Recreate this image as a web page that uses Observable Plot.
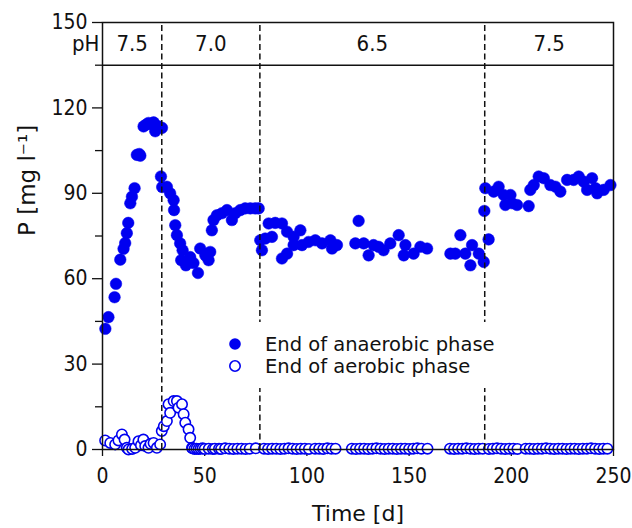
<!DOCTYPE html>
<html>
<head>
<meta charset="utf-8">
<script src="https://cdn.jsdelivr.net/npm/d3@7"></script>
<script src="https://cdn.jsdelivr.net/npm/@observablehq/plot@0.6"></script>
<style>
  html, body { margin: 0; padding: 0; background: #fff; }
  #chart { width: 632px; height: 528px; }
</style>
</head>
<body>
<div id="chart"></div>
<script>
// ---- data ----
const anaerobicDays = [1.4,2.9,5.9,6.6,8.7,10.3,11.1,11.9,12.6,13.6,14.4,15.7,16.8,18.0,18.5,20.1,21.5,22.5,23.8,25.0,25.8,27.4,29.1,28.6,29.2,31.5,33.1,34.8,35.0,35.6,36.4,38.0,39.2,38.5,40.8,42.9,44.5,46.7,47.8,50.3,51.9,52.7,53.5,54.3,56.0,58.4,60.9,63.3,65.0,67.4,69.8,72.3,74.7,76.4,77.2,78.0,79.6,81.3,82.9,84.5,87.8,87.8,90.3,90.3,93.5,96.8,93.5,97.6,100.8,104.1,107.4,111.5,112.3,114.7,123.7,125.3,127.8,130.2,132.6,135.1,137.5,140.8,144.9,147.4,148.2,152.2,155.5,158.8,170.2,172.6,175.1,177.5,180.0,180.8,184.1,186.5,186.8,187.3,188.9,191.4,193.8,196.3,197.1,199.6,200.4,202.8,208.5,209.3,211.0,213.4,215.9,219.1,221.6,224.0,227.3,230.5,233.0,235.4,237.1,239.5,241.2,242.0,245.2,248.5];
const anaerobicP = [42.4,46.5,53.5,58.2,66.7,70.5,72.5,76.0,79.6,86.5,88.8,91.8,103.5,103.8,103.2,113.5,114.2,114.7,114.3,114.9,111.8,113.5,113.0,95.9,92.2,92.3,90.0,87.6,84.1,78.8,75.3,72.4,70.0,66.5,64.7,67.6,65.5,62.0,70.6,68.2,66.5,69.4,77.0,80.6,82.3,83.0,84.1,80.6,83.0,84.1,84.7,84.7,84.7,84.7,73.5,70.0,74.1,79.4,74.7,79.6,79.4,67.1,68.8,76.5,74.7,77.0,71.8,71.8,72.9,73.5,72.4,73.5,70.6,71.8,72.4,80.3,72.4,68.2,71.8,71.2,70.0,72.4,75.3,68.2,71.8,68.8,71.2,70.6,68.8,68.8,75.3,68.8,64.7,71.8,68.8,65.9,83.8,91.8,73.8,90.6,92.3,89.4,85.9,89.4,86.5,85.9,85.5,91.2,92.9,95.9,95.3,92.9,92.3,90.6,94.7,94.7,95.9,94.1,91.2,95.3,91.8,90.0,91.2,92.9];

const aerobicDays = [1.3,3.8,6.2,7.8,9.5,10.8,11.9,12.7,14.5,16.0,17.6,18.8,20.0,20.9,22.5,23.5,25.0,26.6,28.2,29.0,30.0,31.5,32.3,33.1,34.8,36.4,37.2,38.9,39.7,40.5,42.1,42.9,43.8,
  44,45,46,47,48,49,50,52,54,55,57,58,60,62,64,66,68,70,72,75,79,81,83,85,87,89,91,93,95,97,99,101,104,106,108,110,112,114,
  122,124,126,128,130,132,134,136,138,140,142,144,146,148,150,152,154,156,159,
  170,172,174,176,178,180,182,184,186,189,191,193,195,197,199,201,203,207,209,211,213,215,217,219,221,223,225,227,229,231,233,235,237,239,241,243,245,247,250];
const aerobicP = [3.2,2.3,1.8,3.2,5.3,3.5,0.6,0.0,0.2,0.6,2.9,1.5,3.5,1.2,0.6,2.0,2.3,0.6,1.8,6.5,8.2,10.0,15.9,12.9,17.0,17.0,14.7,15.9,12.4,9.4,7.1,4.1,0.6,
  0.4,0.2,0.3,0.2,0.3,0.4,0.2,0.3,0.2,0.3,0.3,0.2,0.4,0.3,0.2,0.3,0.3,0.2,0.3,0.4,0.3,0.2,0.3,0.3,0.2,0.3,0.4,0.3,0.2,0.3,0.3,0.2,0.3,0.3,0.2,0.4,0.3,0.3,
  0.3,0.2,0.3,0.3,0.2,0.3,0.4,0.3,0.2,0.3,0.3,0.2,0.3,0.3,0.2,0.3,0.4,0.3,0.3,
  0.3,0.2,0.3,0.3,0.4,0.3,0.2,0.3,0.3,0.2,0.3,0.4,0.3,0.2,0.3,0.3,0.2,0.3,0.3,0.2,0.3,0.3,0.4,0.3,0.2,0.3,0.3,0.2,0.3,0.3,0.2,0.3,0.3,0.4,0.3,0.2,0.3,0.3];

// pH phases
const phStart = [0, 29, 77, 187];
const phEnd = [29, 77, 187, 250];
const phLabels = ["7.5", "7.0", "6.5", "7.5"];
const phaseBoundaries = [29, 77, 187];
const phBandLow = 135, phBandHigh = 150;

const xTicks = [0, 50, 100, 150, 200, 250];
const yTicks = [0, 30, 60, 90, 120, 150];
const yMinorTicks = [15, 45, 75, 105, 135];

const legendLabels = ["End of anaerobic phase", "End of aerobic phase"];

// ---- tables ----
const anaerobic = anaerobicDays.map((d, i) => ({day: d, p: anaerobicP[i]}));
const aerobic = aerobicDays.map((d, i) => ({day: d, p: aerobicP[i]}));
const phases = phLabels.map((l, i) => ({label: l, mid: (phStart[i] + phEnd[i]) / 2, y: (phBandLow + phBandHigh) / 2}));

const blue = "#0000f0";
const ink = "#111";
const tickFont = "'DejaVu Sans Condensed', 'DejaVu Sans', sans-serif";
const titleFont = "'DejaVu Sans', sans-serif";

const plot = Plot.plot({
  width: 632,
  height: 528,
  marginLeft: 102,
  marginRight: 19,
  marginTop: 22,
  marginBottom: 79,
  style: {fontFamily: tickFont, fontSize: "21px", color: ink, background: "#fff", overflow: "visible"},
  x: {domain: [0, 250]},
  y: {domain: [0, 150]},
  marks: [
    Plot.ruleY([phBandLow], {stroke: ink, strokeWidth: 1.5}),
    Plot.axisX({ticks: xTicks, tickSize: 7, tickPadding: 12, fontSize: 21, label: null, stroke: ink, strokeWidth: 1.3}),
    Plot.axisY({ticks: yTicks, tickSize: 10, tickPadding: 5, fontSize: 21, label: null, stroke: ink, strokeWidth: 1.3}),
    Plot.axisY({ticks: yMinorTicks, tickSize: 7, tickFormat: () => "", label: null, stroke: ink, strokeWidth: 1.3}),
    Plot.dot(aerobic, {x: "day", y: "p", r: 5.2, fill: "#fff", stroke: blue, strokeWidth: 1.6}),
    Plot.dot(anaerobic, {x: "day", y: "p", r: 5.8, fill: blue, stroke: blue, strokeWidth: 0.5}),
    Plot.ruleX(phaseBoundaries, {y1: 0, y2: phBandHigh, stroke: ink, strokeWidth: 1.5, strokeDasharray: "6,3.5"}),
    Plot.frame({stroke: ink, strokeWidth: 1.5}),
    Plot.text(phases, {x: "mid", y: "y", text: "label", fontSize: 22, fontFamily: tickFont, fill: ink, lineAnchor: "middle"}),
    Plot.text(["pH"], {x: 0, y: (phBandLow + phBandHigh) / 2, dx: -3, textAnchor: "end", fontSize: 22, fontFamily: tickFont, fill: ink, lineAnchor: "middle"}),
    Plot.text(["Time [d]"], {frameAnchor: "bottom", dy: 64, fontSize: 22, fontFamily: titleFont, fill: ink, lineAnchor: "middle"}),
    Plot.text(["P [mg l\u207B\u00B9]"], {frameAnchor: "left", dx: -75, rotate: -90, fontSize: 23, fontFamily: titleFont, fill: ink, lineAnchor: "middle"})
  ]
});

document.getElementById("chart").appendChild(plot);

// ---- legend inside the plot area ----
const svg = d3.select(plot);
const lg = svg.append("g")
  .attr("font-family", titleFont)
  .attr("font-size", 19.5)
  .attr("fill", ink)
  .attr("text-anchor", "start");
lg.append("rect").attr("x", 222).attr("y", 322).attr("width", 273).attr("height", 66).attr("fill", "#fff");
const rowY = [344, 366];
legendLabels.forEach((lab, i) => {
  const c = lg.append("circle").attr("cx", 235).attr("cy", rowY[i]);
  if (i === 0) c.attr("r", 5.8).attr("fill", blue);
  else c.attr("r", 5.2).attr("fill", "#fff").attr("stroke", blue).attr("stroke-width", 1.6);
  lg.append("text").attr("x", 265).attr("y", rowY[i] + 7).attr("text-anchor", "start").text(lab);
});
</script>
</body>
</html>
